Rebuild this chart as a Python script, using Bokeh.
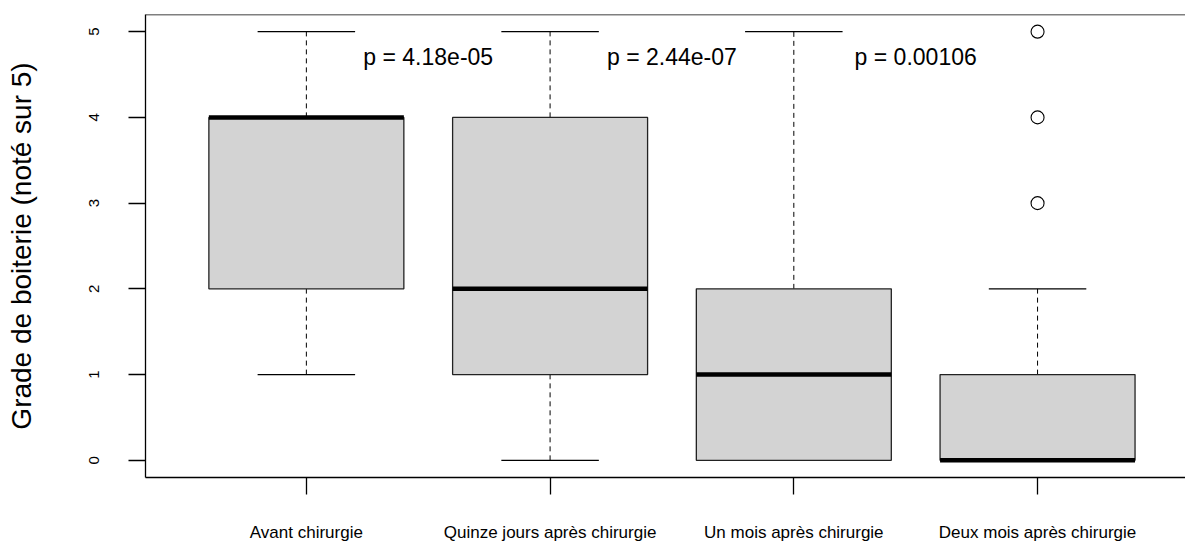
from bokeh.plotting import figure
from bokeh.models import Range1d, FixedTicker, Span, ColumnDataSource
from bokeh.core.properties import value
from bokeh.embed import file_html
from bokeh.resources import INLINE

# ---- data ----
groups = ["Avant chirurgie", "Quinze jours après chirurgie",
          "Un mois après chirurgie", "Deux mois après chirurgie"]
positions = [1, 2, 3, 4]
whisker_low = [1, 0, 0, 0]
q1 = [2, 1, 0, 0]
median = [4, 2, 1, 0]
q3 = [4, 4, 2, 1]
whisker_high = [5, 5, 5, 2]
outlier_pos = [4, 4, 4]
outlier_val = [3, 4, 5]
pval_pos = [1.5, 2.5, 3.5]
pval_y = [4.7, 4.7, 4.7]
pval_text = ["p = 4.18e-05", "p = 2.44e-07", "p = 0.00106"]
y_ticks = [0, 1, 2, 3, 4, 5]

FONT = "Liberation Sans"
BOXW = 0.8
CAPW = 0.4

p = figure(width=1185, height=544, output_backend="svg", toolbar_location=None,
           x_range=Range1d(0.34, 4.607), y_range=Range1d(-0.2, 5.2),
           min_border_left=145, min_border_right=0, min_border_top=14,
           min_border_bottom=66)
p.outline_line_color = None
p.grid.visible = False
p.background_fill_color = "white"
p.border_fill_color = "white"

src = ColumnDataSource(dict(
    x=positions,
    left=[x - BOXW / 2 for x in positions],
    right=[x + BOXW / 2 for x in positions],
    cl=[x - CAPW / 2 for x in positions],
    cr=[x + CAPW / 2 for x in positions],
    wl=whisker_low, q1=q1, med=median, q3=q3, wh=whisker_high,
))

# whiskers (dashed)
p.segment(x0="x", y0="q3", x1="x", y1="wh", source=src, line_color="black",
          line_width=1, line_dash="5 4")
p.segment(x0="x", y0="wl", x1="x", y1="q1", source=src, line_color="black",
          line_width=1, line_dash="5 4")
# caps
p.segment(x0="cl", y0="wh", x1="cr", y1="wh", source=src, line_color="black", line_width=1.2)
p.segment(x0="cl", y0="wl", x1="cr", y1="wl", source=src, line_color="black", line_width=1.2)
# boxes
p.quad(left="left", right="right", bottom="q1", top="q3", source=src,
       fill_color="#D3D3D3", line_color="#222222", line_width=1.3)
# medians
p.segment(x0="left", y0="med", x1="right", y1="med", source=src,
          line_color="black", line_width=4.5)
# outliers
p.scatter(x=outlier_pos, y=outlier_val, marker="circle", size=13,
          fill_color=None, line_color="black", line_width=1.1)

# p-values
p.text(x=pval_pos, y=pval_y, text=pval_text, text_align="center",
       text_baseline="middle", text_font=value(FONT), text_font_size="23px",
       text_color="black")

# top frame line
p.add_layout(Span(location=5.2, dimension="width", line_color="black", line_width=1.3))

# y axis
ya = p.yaxis[0]
ya.ticker = FixedTicker(ticks=y_ticks)
ya.axis_label = "Grade de boiterie (noté sur 5)"
ya.axis_label_text_font = FONT
ya.axis_label_text_font_size = "28px"
ya.axis_label_text_font_style = "normal"
ya.axis_label_text_color = "black"
ya.axis_label_standoff = 50
ya.major_label_orientation = "vertical"
ya.major_label_text_font = FONT
ya.major_label_text_font_size = "15px"
ya.major_label_text_color = "black"
ya.major_label_standoff = 29
ya.major_tick_out = 17
ya.major_tick_in = 0
ya.minor_tick_line_color = None
ya.axis_line_color = "black"
ya.axis_line_width = 1.3
ya.major_tick_line_width = 1.3

# x axis
xa = p.xaxis[0]
xa.ticker = FixedTicker(ticks=positions)
xa.major_label_overrides = {pos: g for pos, g in zip(positions, groups)}
xa.major_label_text_font = FONT
xa.major_label_text_font_size = "17px"
xa.major_label_text_color = "black"
xa.major_label_standoff = 28
xa.major_tick_out = 17
xa.major_tick_in = 0
xa.minor_tick_line_color = None
xa.axis_line_color = "black"
xa.axis_line_width = 1.3
xa.major_tick_line_width = 1.3

open("out.html", "w").write(file_html(p, INLINE))
